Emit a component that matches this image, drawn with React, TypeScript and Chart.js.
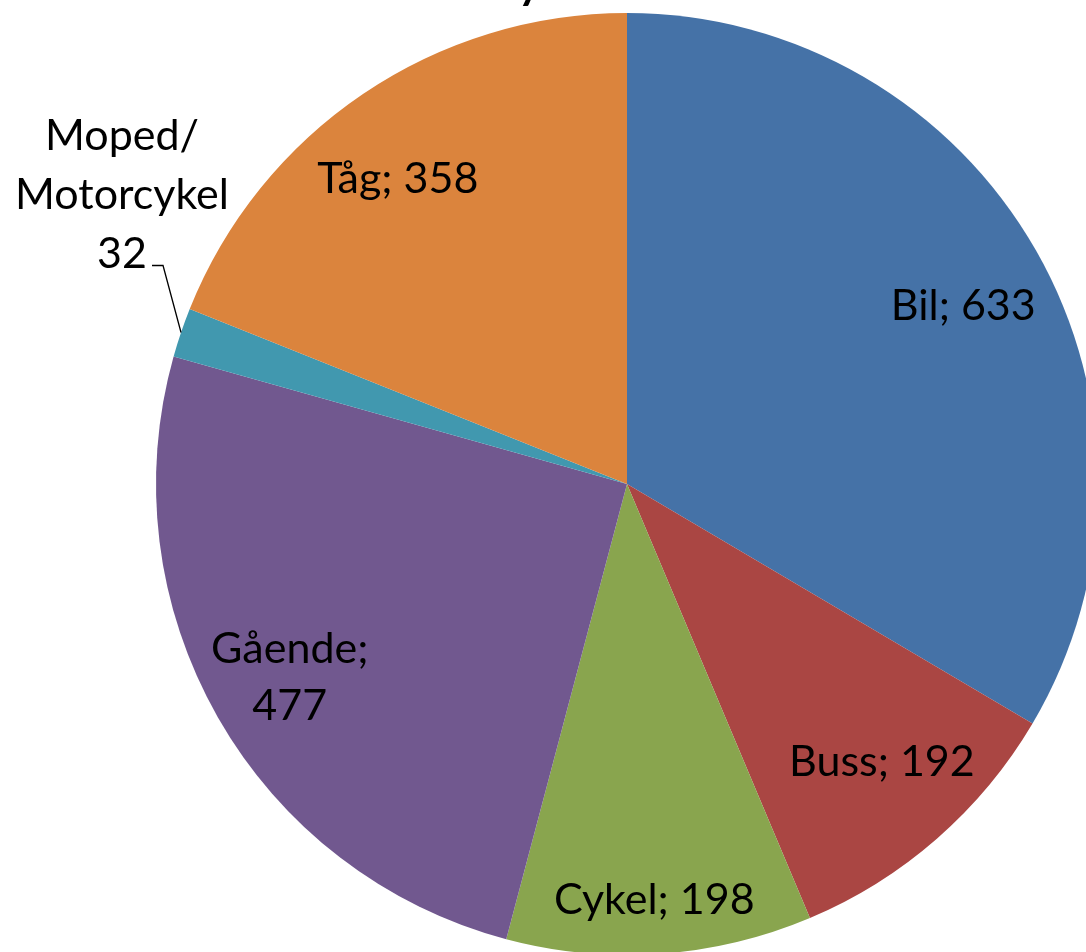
import React, { useEffect, useRef } from "react";
import { Chart, registerables } from "chart.js";

Chart.register(...registerables);

// ---- data ----
const categories = ["Bil", "Buss", "Cykel", "Gående", "Moped/Motorcykel", "Tåg"];
const values = [633, 192, 198, 477, 32, 358];
const colors = ["#4572A7", "#AA4643", "#89A54E", "#71588F", "#4198AF", "#DB843D"];
const titleText = "Färdsätt bland Tyresöbor";

// ---- layout ----
const CANVAS_W = 1254;
const CANVAS_H = 968;
const PIE_D = 942;
const FONT = "43px Lato";
const TITLE_FONT = "bold 44px Lato";
const LINE_H = 57;
const LINE_H_OUT = 59;
const CAP_H = 30;

// label placement: radial factor plus a small nudge; "wrap" splits value onto its own line
const labelLayout = [
  { mode: "one", f: 0.8, dx: 9, dy: 8 },
  { mode: "one", f: 0.8, dx: 7, dy: -7 },
  { mode: "one", f: 0.8, dx: 1, dy: 39 },
  { mode: "wrap", f: 0.8, dx: -10, dy: 6 },
  { mode: "outside", dx: -18, dy: -67, tail: 11, gap: 30 },
  { mode: "one", f: 0.8, dx: -18, dy: 6 },
];

function labelLines(i: number): string[] {
  const c = categories[i];
  const v = String(values[i]);
  const m = labelLayout[i].mode;
  if (m === "outside") {
    const parts = c.split("/");
    return [parts[0] + "/", parts[1], v];
  }
  if (m === "wrap") return [c + ";", v];
  return [c + "; " + v];
}

const labelPlugin = {
  id: "sliceLabels",
  afterDatasetsDraw(chart: any) {
    const ctx = chart.ctx as CanvasRenderingContext2D;
    const meta = chart.getDatasetMeta(0);
    ctx.save();
    ctx.font = FONT;
    ctx.fillStyle = "#000";
    ctx.textAlign = "center";
    ctx.textBaseline = "alphabetic";
    meta.data.forEach((arc: any, i: number) => {
      const p = arc.getProps(["x", "y", "startAngle", "endAngle", "outerRadius"], true);
      const mid = (p.startAngle + p.endAngle) / 2;
      const L: any = labelLayout[i];
      const lines = labelLines(i);
      if (L.mode === "outside") {
        const ex = p.x + Math.cos(mid) * p.outerRadius;
        const ey = p.y + Math.sin(mid) * p.outerRadius;
        const kx = ex + L.dx;
        const ky = ey + L.dy;
        const tx = kx - L.tail;
        ctx.strokeStyle = "#000";
        ctx.lineWidth = 1.3;
        ctx.beginPath();
        ctx.moveTo(ex, ey);
        ctx.lineTo(kx, ky);
        ctx.lineTo(tx, ky);
        ctx.stroke();
        const cx = tx - L.gap;
        lines.forEach((s, j) => {
          ctx.fillText(s, cx, ky + 2 - (lines.length - 1 - j) * LINE_H_OUT);
        });
      } else {
        const ax = p.x + Math.cos(mid) * p.outerRadius * L.f + L.dx;
        const ay = p.y + Math.sin(mid) * p.outerRadius * L.f + L.dy;
        const first = ay - ((lines.length - 1) * LINE_H) / 2 + CAP_H / 2;
        lines.forEach((s, j) => ctx.fillText(s, ax, first + j * LINE_H));
      }
    });
    // title (only its descender falls inside the frame)
    ctx.font = TITLE_FONT;
    ctx.textAlign = "left";
    const idx = titleText.indexOf("y");
    const preW = ctx.measureText(titleText.slice(0, idx)).width;
    const yW = ctx.measureText("y").width;
    ctx.fillText(titleText, 533 - preW - yW / 2, -1);
    ctx.restore();
  },
};

export default function App() {
  const ref = useRef<HTMLCanvasElement | null>(null);
  useEffect(() => {
    if (!ref.current) return;
    const padX = (CANVAS_W - PIE_D) / 2;
    const padY = (CANVAS_H - PIE_D) / 2;
    const chart = new Chart(ref.current, {
      type: "pie",
      data: {
        labels: categories,
        datasets: [
          {
            data: values,
            backgroundColor: colors,
            borderWidth: 0,
          },
        ],
      },
      options: {
        animation: false,
        responsive: false,
        devicePixelRatio: 1,
        layout: { padding: { left: padX, right: padX, top: padY, bottom: padY } },
        plugins: {
          legend: { display: false },
          tooltip: { enabled: false },
          title: { display: false },
        },
      },
      plugins: [labelPlugin],
    });
    return () => chart.destroy();
  }, []);
  return (
    <div
      style={{
        position: "absolute",
        left: 0,
        top: 0,
        width: 1086,
        height: 952,
        overflow: "hidden",
        background: "#fff",
      }}
    >
      <canvas
        ref={ref}
        width={CANVAS_W}
        height={CANVAS_H}
        style={{ position: "absolute", left: 0, top: 0, width: CANVAS_W, height: CANVAS_H, display: "block" }}
      />
    </div>
  );
}
